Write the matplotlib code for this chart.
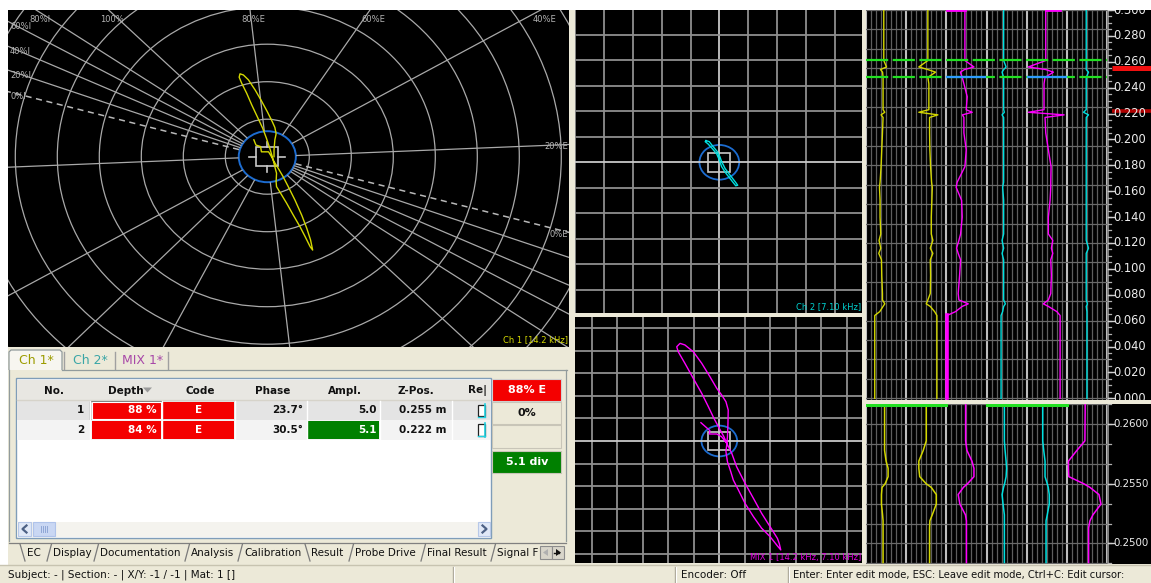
import numpy as np
import matplotlib
matplotlib.use("Agg")
import matplotlib.pyplot as plt
from matplotlib.patches import Rectangle, Ellipse, Polygon

plt.rcParams['font.family'] = ['DejaVu Sans']

W, H = 1151, 583
BG = '#ECE9D8'

# ---------------------------------------------------------------- data
# Ch 1 (14.2 kHz) impedance-plane trace, in grid rings (x right, y up)
CH1_X = [-0.32, -0.27, -0.16, -0.14, 0.03, 0.10, 0.16, 0.26, 0.37, 0.50, 0.66, 0.82,
         0.94, 1.03, 1.08, 1.02, 0.90, 0.78, 0.62, 0.46, 0.32, 0.22, 0.21, 0.22,
         0.18, 0.13, 0.06, -0.02, -0.11, -0.24, -0.37, -0.49, -0.61, -0.67, -0.65,
         -0.57, -0.45, -0.29, -0.13, 0.00, 0.12, 0.18, 0.21, 0.18, 0.16, 0.16]
CH1_Y = [0.45, 0.31, 0.27, 0.13, 0.13, 0.00, -0.13, -0.31, -0.52, -0.80, -1.16, -1.56,
         -1.91, -2.22, -2.49, -2.40, -2.13, -1.87, -1.56, -1.24, -0.98, -0.80, -0.67, -0.44,
         -0.27, -0.04, 0.22, 0.49, 0.76, 1.07, 1.38, 1.69, 1.96, 2.12, 2.21,
         2.18, 2.05, 1.78, 1.47, 1.20, 0.93, 0.78, 0.61, 0.45, 0.18, 0.00]

# Ch 2 (7.10 kHz) trace, in grid divisions
CH2_X = [-0.46, -0.35, -0.21, -0.07, 0.02, 0.08, 0.20, 0.37, 0.55, 0.64, 0.57, 0.41,
         0.23, 0.08, 0.00, -0.09, -0.23, -0.39, -0.49, -0.46]
CH2_Y = [0.85, 0.81, 0.61, 0.42, 0.22, 0.03, -0.24, -0.50, -0.76, -0.90, -0.92, -0.69,
         -0.43, -0.17, 0.09, 0.33, 0.52, 0.72, 0.81, 0.85]

# MIX 1 trace, in grid divisions
MIX_X = [-0.72, -0.37, -0.39, -0.10, 0.09, 0.29, 0.49, 0.68, 1.01, 1.34, 1.66, 1.99,
         2.28, 2.35, 2.41, 2.25, 1.99, 1.66, 1.34, 1.01, 0.75, 0.55, 0.45, 0.32,
         0.26, 0.29, 0.32, 0.34, 0.35, 0.26, 0.09, -0.10, -0.37, -0.69, -1.02, -1.35,
         -1.54, -1.67, -1.61, -1.35, -1.02, -0.69, -0.43, -0.21, 0.00, 0.18, 0.29]
MIX_Y = [0.81, 0.46, 0.31, 0.31, 0.19, -0.10, -0.55, -1.14, -1.87, -2.54, -3.20, -3.79,
         -4.31, -4.53, -4.82, -4.60, -4.23, -3.86, -3.35, -2.76, -2.17, -1.73, -1.36, -0.92,
         -0.47, -0.18, 0.19, 0.78, 1.37, 1.74, 2.04, 2.33, 2.85, 3.44, 3.95, 4.25,
         4.32, 4.17, 3.95, 3.44, 2.77, 2.11, 1.52, 1.00, 0.56, 0.19, -0.10]

# calibration phase lines of the Ch 1 display (degrees) and their labels
CAL_ANGLES = [2.6, 31.0, 58.0, 96.0, 134.0, 144.6, 149.7, 154.5, 159.5]
CAL_LABELS = ['20%E', '40%E', '60%E', '80%E', '100%', '80%I', '60%I', '40%I', '20%I']
CAL_THROUGH = [True, True, False, True, True, True, True, True, True]
ZERO_ANGLE = 164.3
ZERO_LABELS = ['0%I', '0%E']
EXTRA_RAYS = [227.0, 244.0]
CH1_RINGS = [1, 2, 3, 4, 5, 6, 7, 8, 9]

# strip charts: depth (m) and deflection per track
STRIP_DEPTH = [0.000, 0.064, 0.067, 0.071, 0.073, 0.076, 0.081, 0.095, 0.107, 0.112,
               0.116, 0.122, 0.127, 0.140, 0.153, 0.163, 0.167, 0.179, 0.192, 0.205,
               0.217, 0.219, 0.221, 0.223, 0.233, 0.243, 0.248, 0.252, 0.254, 0.256,
               0.261, 0.300]
TRACK1 = [-11.3, -11.3, -6.3, -3.0, -1.3, -3.6, -3.6, -4.3, -4.6, -7.3, -5.3, -7.0, -5.3,
          -6.0, -6.0, -6.6, -6.0, -5.0, -4.3, -3.6, -3.0, -5.0, -1.3, -3.0, -3.0, -3.0,
          -3.0, -3.5, -5.6, 0.4, -2.3, -2.3]
TRACK2 = [10.6, 10.6, 8.3, 4.0, 0.0, 1.6, 4.0, 4.3, 4.0, 6.6, 4.0, 6.6, 5.0, 5.0, 5.6,
          6.0, 5.3, 4.3, 3.6, 3.3, 3.3, 11.6, -7.4, 2.6, 2.6, 2.6, 1.6, 9.3, 1.6, -7.4,
          1.6, 1.6]
TRACK3 = [-19.2, -19.2, -10.8, -4.2, 1.8, -7.5, -8.2, -6.8, -5.8, -8.2, -9.8, -7.5, -5.8,
          -4.2, -4.8, -10.2, -9.2, -1.5, -0.2, -2.5, -2.5, -4.0, 5.8, -0.2, 0.8, -2.5,
          -4.2, -6.0, -2.0, 7.5, -1.5, -1.5]
TRACK4 = [-5.5, -5.5, -3.9, -2.9, -1.2, -2.9, -2.9, -2.9, -2.9, -4.5, -2.9, -4.5, -2.9,
          -2.9, -2.9, -3.9, -2.9, -2.9, -2.9, -2.9, -2.9, -4.5, -2.2, -2.9, -2.9, -2.9,
          -2.9, -4.5, -2.9, -0.5, -2.9, -2.9]
TRACK5 = [13.3, 13.3, 10.0, 1.6, -3.4, 1.6, 4.0, 4.6, 4.0, 6.0, 4.6, 6.0, 1.6, 1.6, 3.3,
          4.0, 4.0, 4.3, 1.6, -1.0, -1.7, 17.3, -18.4, -2.7, -2.7, -2.7, -1.7, 6.6, -1.0,
          -18.4, -1.0, -1.0]
TRACK6 = [0.0, 0.0, 0.0, -0.7, 0.5, -0.7, -0.7, -0.7, -0.7, -0.7, 1.6, -0.7, -0.7, -0.7,
          -0.7, -0.7, -0.7, -0.7, -0.7, -0.7, -0.7, 1.6, -3.4, -0.7, -0.7, -0.7, -0.7,
          1.6, -0.7, -0.7, -0.7, -0.7]
STRIP_TRACKS = [TRACK1, TRACK2, TRACK3, TRACK4, TRACK5, TRACK6]
STRIP_COLORS = ['yellow', 'yellow', 'magenta', 'cyan', 'magenta', 'cyan']

# zoomed strip window (between the two green cursors)
ZOOM_RANGE = (0.2483, 0.2617)
ZOOM_DEPTH = [0.2484, 0.2513, 0.2519, 0.2524, 0.2533, 0.2541, 0.2547, 0.2550, 0.2556,
              0.2563, 0.2569, 0.2578, 0.2586, 0.2617]
ZTRACK1 = [-3.0, -3.0, -3.0, -3.5, -4.6, -4.6, -4.0, -1.0, 2.0, 2.0, 0.0, -1.5, -1.5, -1.5]
ZTRACK2 = [3.3, 3.3, 3.6, 6.0, 10.0, 10.0, 5.0, 0.0, -6.5, -7.4, -7.4, -3.0, 0.0, 0.0]
ZTRACK3 = [0.0, 0.0, 0.0, -1.0, -6.5, -8.2, -3.0, 1.0, 7.5, 7.5, 5.5, 0.5, -0.8, -0.8]
ZTRACK4 = [-2.2, -2.2, -2.2, -2.2, -3.5, -4.5, -3.0, -2.0, -0.5, 0.0, -0.5, -1.5, -2.2, -2.2]
ZTRACK5 = [-0.7, -0.7, -0.7, 0.5, 2.5, 2.5, 1.5, 0.5, -1.7, -1.7, -1.7, -3.0, -4.0, -4.0]
ZTRACK6 = [1.7, 1.7, 3.0, 6.0, 14.0, 12.0, 3.0, -3.0, -18.0, -18.4, -18.4, -10.0, -2.0, -1.7]
ZOOM_TRACKS = [ZTRACK1, ZTRACK2, ZTRACK3, ZTRACK4, ZTRACK5, ZTRACK6]
ZOOM_COLORS = ['yellow', 'yellow', 'magenta', 'cyan', 'cyan', 'magenta']

STRIP_TICKS = [0.300, 0.280, 0.260, 0.240, 0.220, 0.200, 0.180, 0.160, 0.140, 0.120,
               0.100, 0.080, 0.060, 0.040, 0.020, 0.000]
ZOOM_TICKS = [0.2600, 0.2550, 0.2500]

# result table
RESULT_NO = [1, 2]
RESULT_DEPTH = [88, 84]
RESULT_CODE = ['E', 'E']
RESULT_PHASE = [23.7, 30.5]
RESULT_AMPL = [5.0, 5.1]
RESULT_ZPOS = [0.255, 0.222]

COL = {'yellow': '#D4D800', 'magenta': '#FF00FF', 'cyan': '#00E0E0'}
GRID = '#A9A9A9'
BLUE = '#1C6CD0'


# ---------------------------------------------------------------- helpers
fig = plt.figure(figsize=(W / 100, H / 100), dpi=100, facecolor=BG)

ui = fig.add_axes([0, 0, 1, 1], zorder=0)
ui.set_xlim(0, W)
ui.set_ylim(H, 0)
ui.axis('off')


def px_axes(x0, y0, x1, y1, fc='black', z=2):
    ax = fig.add_axes([x0 / W, 1 - y1 / H, (x1 - x0) / W, (y1 - y0) / H], zorder=z)
    ax.set_facecolor(fc)
    for s in ax.spines.values():
        s.set_visible(False)
    ax.set_xticks([])
    ax.set_yticks([])
    return ax


def scope_limits(ax, box, center, div):
    x0, y0, x1, y1 = box
    cx, cy = center
    dx, dy = div
    ax.set_xlim((x0 - cx) / dx, (x1 - cx) / dx)
    ax.set_ylim((cy - y1) / dy, (cy - y0) / dy)


def rect(x0, y0, x1, y1, **kw):
    ui.add_patch(Rectangle((x0, y0), x1 - x0, y1 - y0, **kw))


# white margins of the window
rect(0, 0, W, 9.5, fc='white', ec='none')
rect(0, 0, 8, 565, fc='white', ec='none')

# ---------------------------------------------------------------- Ch 1 phase display
ax1 = px_axes(8, 10, 569, 347)
scope_limits(ax1, (8, 10, 569, 347), (267.3, 156.7), (42.0, 37.5))
xl, yl = ax1.get_xlim(), ax1.get_ylim()

for r in CH1_RINGS:
    ax1.add_patch(Ellipse((0, 0), 2 * r, 2 * r, fill=False, ec=GRID, lw=0.9))


def ray(ax, a, r0, r1, **kw):
    t = np.radians(a)
    ax.plot([r0 * np.cos(t), r1 * np.cos(t)], [r0 * np.sin(t), r1 * np.sin(t)], **kw)


def edge_point(a):
    t = np.radians(a)
    c, s = np.cos(t), np.sin(t)
    cands = []
    if c > 1e-9:
        cands.append((xl[1] / c, 'right'))
    if c < -1e-9:
        cands.append((xl[0] / c, 'left'))
    if s > 1e-9:
        cands.append((yl[1] / s, 'top'))
    if s < -1e-9:
        cands.append((yl[0] / s, 'bottom'))
    d, side = min(cands)
    return d * c, d * s, side


def edge_label(a, text):
    x, y, side = edge_point(a)
    kw = dict(color='#B4B4B4', fontsize=6, clip_on=False)
    if side == 'top':
        ax1.text(x + 0.08, yl[1] - 0.12, text, ha='center', va='top', **kw)
    elif side == 'left':
        ax1.text(xl[0] + 0.05, y - 0.02, text, ha='left', va='top', **kw)
    elif side == 'right':
        ax1.text(xl[1] - 0.02, y - 0.05, text, ha='right', va='center', **kw)


for a, lab, through in zip(CAL_ANGLES, CAL_LABELS, CAL_THROUGH):
    ray(ax1, a, 0.7, 14, color=GRID, lw=0.9)
    if through:
        ray(ax1, a + 180, 0.7, 14, color=GRID, lw=0.9)
    edge_label(a, lab)
for a in EXTRA_RAYS:
    ray(ax1, a, 0.7, 14, color=GRID, lw=0.9)
ray(ax1, ZERO_ANGLE, 0.7, 14, color='#B8B8B8', lw=1.1, ls=(0, (4, 3)))
ray(ax1, ZERO_ANGLE + 180, 0.7, 14, color='#B8B8B8', lw=1.1, ls=(0, (4, 3)))
edge_label(ZERO_ANGLE, ZERO_LABELS[0])
edge_label(ZERO_ANGLE + 180, ZERO_LABELS[1])

ax1.add_patch(Ellipse((0, 0), 1.36, 1.36, fill=False, ec=BLUE, lw=1.4))
ax1.add_patch(Rectangle((-0.26, -0.25), 0.52, 0.5, fill=False, ec='#C8C8C8', lw=1.2))
for (xa, ya), (xb, yb) in [((-0.44, 0), (-0.26, 0)), ((0.26, 0), (0.43, 0)),
                           ((0, -0.25), (0, -0.41)), ((0, 0.25), (0, 0.40))]:
    ax1.plot([xa, xb], [ya, yb], color='#C8C8C8', lw=1.2)
ax1.plot(CH1_X, CH1_Y, color=COL['yellow'], lw=1.0)
ax1.text(xl[1] - 0.03, yl[0] + 0.08, 'Ch 1 [14.2 kHz]', color=COL['yellow'],
         fontsize=6, ha='right', va='bottom')


# ---------------------------------------------------------------- Ch 2 and MIX 1 displays
def grid_scope(ax, center_line='#C8C8C8', minor='#8E8E8E'):
    x0, x1 = ax.get_xlim()
    y0, y1 = ax.get_ylim()
    for v in range(int(np.ceil(x0)), int(np.floor(x1)) + 1):
        ax.axvline(v, color=center_line if v == 0 else minor, lw=1.3)
    for v in range(int(np.ceil(y0)), int(np.floor(y1)) + 1):
        ax.axhline(v, color=center_line if v == 0 else minor, lw=1.3)


ax2 = px_axes(575, 9.5, 862, 313)
scope_limits(ax2, (575, 9.5, 862, 313), (719.3, 162.3), (28.8, 25.5))
grid_scope(ax2)
ax2.add_patch(Ellipse((0, 0), 1.38, 1.36, fill=False, ec=BLUE, lw=1.3))
ax2.add_patch(Rectangle((-0.38, -0.37), 0.76, 0.74, fill=False, ec='#C8C8C8', lw=1.2))
ax2.plot(CH2_X, CH2_Y, color=COL['cyan'], lw=1.0)
x2l, y2l = ax2.get_xlim(), ax2.get_ylim()
ax2.text(x2l[1] - 0.03, y2l[0] + 0.08, 'Ch 2 [7.10 kHz]', color='#00D0D0',
         fontsize=6, ha='right', va='bottom')

ax3 = px_axes(575, 317.3, 862, 563.3)
scope_limits(ax3, (575, 317.3, 862, 563.3), (719.3, 441.0), (25.5, 22.6))
grid_scope(ax3)
ax3.add_patch(Ellipse((0, 0), 1.40, 1.36, fill=False, ec=BLUE, lw=1.3))
ax3.add_patch(Rectangle((-0.43, -0.42), 0.86, 0.84, fill=False, ec='#C8C8C8', lw=1.2))
ax3.plot(MIX_X, MIX_Y, color=COL['magenta'], lw=1.0)
x3l, y3l = ax3.get_xlim(), ax3.get_ylim()
ax3.text(x3l[1] - 0.03, y3l[0] + 0.05, 'MIX 1 [14.2 kHz, 7.10 kHz]', color='#E000E0',
         fontsize=6, ha='right', va='bottom')


# ---------------------------------------------------------------- strip charts
TRACK_W = 40.0


def strip_grid(ax, ylo, yhi, hstep, hbase):
    for c in range(6):
        for k in range(1, 8):
            ax.axvline(c * TRACK_W + k * 5, color='#5E5E5E', lw=0.9)
    for c in range(7):
        ax.axvline(c * TRACK_W, color='#BEBEBE', lw=1.5)
    v = hbase
    while v > ylo:
        ax.axhline(v, color='#6A6A6A', lw=0.9)
        v -= hstep


def strip_labels(ax, ticks, fmt, minor_step, ylo, yhi, size=8.3, major_len=6,
                 minor_len=3.5):
    ax.axvline(0.5, color='#9A9A9A', lw=1.2)
    v = max(ticks) + minor_step * 3
    while v >= ylo - minor_step:
        ax.plot([0.5, 0.5 + minor_len], [v, v], color='#B0B0B0', lw=0.9)
        v -= minor_step
    for t in ticks:
        ax.plot([0.5, 0.5 + major_len], [t, t], color='#D0D0D0', lw=1.0)
        txt = ax.text(6.0, t, fmt.format(t), color='#EDEDED', fontsize=size, ha='left',
                      va='center', clip_on=True)
        txt.set_clip_path(ax.patch)


STRIP_TOP = (-0.0013, 0.3004)
ax4 = px_axes(866, 9.5, 1107, 400)
ax4.set_xlim(0, 6 * TRACK_W)
ax4.set_ylim(*STRIP_TOP)
strip_grid(ax4, STRIP_TOP[0], STRIP_TOP[1], 0.015, 0.300)
for c, (trk, cname) in enumerate(zip(STRIP_TRACKS, STRIP_COLORS)):
    xs = c * TRACK_W + TRACK_W / 2 + np.array(trk)
    ax4.plot(xs, STRIP_DEPTH, color=COL[cname], lw=1.0)
    if c == 2:
        ax4.plot(xs[:2], STRIP_DEPTH[:2], color=COL[cname], lw=2.6)
# overflow marks at the top edge for the wrapped magenta tracks
for c in (2, 4):
    trk = STRIP_TRACKS[c]
    ax4.plot([c * TRACK_W + TRACK_W / 2 + trk[0], c * TRACK_W + TRACK_W / 2 + trk[-1]],
             [0.2998, 0.2998], color=COL['magenta'], lw=2.0)
for zr in ZOOM_RANGE:
    ax4.axhline(zr, color='#22E022', lw=1.6, ls=(0, (10, 2)))
for c in (2, 4):
    ax4.plot([c * TRACK_W + 1, (c + 1) * TRACK_W - 1], [ZOOM_RANGE[0]] * 2,
             color='#2E9BFF', lw=1.6)

ax4l = px_axes(1107, 9.5, 1151, 400)
ax4l.set_xlim(0, 44)
ax4l.set_ylim(*STRIP_TOP)
strip_labels(ax4l, STRIP_TICKS, '{:.3f}', 0.005, STRIP_TOP[0], STRIP_TOP[1])
for zp, col, lw in zip(RESULT_ZPOS, ['#F01010', '#B00000'], [3.6, 2.6]):
    ax4l.plot([4.5, 44], [zp, zp], color=col, lw=lw, solid_capstyle='butt')

ZOOM_VIEW = (0.24832, 0.26169)
ax5 = px_axes(866, 404, 1107, 563.5)
ax5.set_xlim(0, 6 * TRACK_W)
ax5.set_ylim(*ZOOM_VIEW)
strip_grid(ax5, ZOOM_VIEW[0], ZOOM_VIEW[1], 0.005 / 3, 0.2600 + 0.005 / 3)
for c, (trk, cname) in enumerate(zip(ZOOM_TRACKS, ZOOM_COLORS)):
    xs = c * TRACK_W + TRACK_W / 2 + np.array(trk)
    ax5.plot(xs, ZOOM_DEPTH, color=COL[cname], lw=1.1)
for c0, c1 in ((0, 2), (3, 5)):
    ax5.plot([c0 * TRACK_W, c1 * TRACK_W], [ZOOM_VIEW[1] - 0.00005] * 2,
             color='#22E022', lw=2.2)

ax5l = px_axes(1107, 404, 1151, 563.5)
ax5l.set_xlim(0, 44)
ax5l.set_ylim(*ZOOM_VIEW)
strip_labels(ax5l, ZOOM_TICKS, '{:.4f}', 0.005 / 3, ZOOM_VIEW[0], ZOOM_VIEW[1], size=7.4)


# ---------------------------------------------------------------- channel tabs
ui.add_patch(Polygon([(9, 370), (9, 352), (11, 350), (60, 350), (62, 352), (62, 370)],
                     closed=False, fc='#F7F6F0', ec='#919B9C', lw=0.9))
ui.text(36, 361, 'Ch 1*', color='#9C9C00', fontsize=9, ha='center', va='center')
ui.text(90, 361, 'Ch 2*', color='#3AA6A6', fontsize=9, ha='center', va='center')
ui.text(143, 361, 'MIX 1*', color='#A848A8', fontsize=9, ha='center', va='center')
for xs in (64, 115, 168):
    ui.plot([xs, xs], [352, 369], color='#A0A0A0', lw=1.0)
ui.plot([62, 567], [370, 370], color='#919B9C', lw=0.9)
ui.plot([9, 9], [370, 541], color='#919B9C', lw=0.9)
ui.plot([566.5, 566.5], [370, 541], color='#919B9C', lw=0.9)

# ---------------------------------------------------------------- result table
rect(16.5, 378, 491, 538, fc='white', ec='#7F9DB9', lw=1.0)
rect(17.5, 379.5, 490, 400, fc='#E8E7E2', ec='none')
ui.plot([17.5, 490], [400, 400], color='#D6D3CA', lw=1.0)
heads = [('No.', 54), ('Depth', 126), ('Code', 200), ('Phase', 273), ('Ampl.', 345),
         ('Z-Pos.', 416), ('Re|', 478)]
for txt, xc in heads:
    ui.text(xc, 390.5, txt, fontsize=7.5, fontweight='bold', ha='center', va='center',
            color='#111111', clip_on=True)
ui.add_patch(Polygon([(143, 387.5), (152, 387.5), (147.5, 392.5)], closed=True,
                     fc='#9A9A9A', ec='none'))

col_edges = [17.5, 90, 162, 235, 307, 380, 452, 490]
row_tops = [400.5, 420]
row_h = 19.5
row_bg = ['#E4E4E4', '#F3F3F3']
ampl_max = max(RESULT_AMPL)
for i in range(len(RESULT_NO)):
    y0 = row_tops[i]
    y1 = y0 + row_h
    yc = (y0 + y1) / 2
    rect(17.5, y0, 490, y1, fc=row_bg[i], ec='none')
    for xe in col_edges[1:-1]:
        ui.plot([xe, xe], [y0, y1], color='white', lw=1.0)
    # depth cell
    rect(col_edges[1] + 2, y0 + 1, col_edges[2] - 1, y1 - 1, fc='#F40000', ec='none')
    if i == 0:
        rect(col_edges[1] + 0.5, y0, col_edges[2] + 0.5, y1, fill=False, ec='#6A6A6A', lw=1.0)
        rect(col_edges[1] + 2, y0 + 1.5, col_edges[2] - 1, y1 - 1.5, fill=False,
             ec='white', lw=0.8)
    # code cell
    rect(col_edges[2] + 1, y0 + 1, col_edges[3] - 1, y1 - 1, fc='#F40000', ec='none')
    # amplitude cell
    best = RESULT_AMPL[i] == ampl_max
    if best:
        rect(col_edges[4] + 1, y0 + 1, col_edges[5] - 1, y1 - 1, fc='#008000', ec='none')
    kw = dict(fontsize=7.5, fontweight='bold', va='center')
    ui.text(col_edges[1] - 6, yc, f'{RESULT_NO[i]}', ha='right', color='#111111', **kw)
    ui.text(col_edges[2] - 5, yc, f'{RESULT_DEPTH[i]} %', ha='right', color='white', **kw)
    ui.text((col_edges[2] + col_edges[3]) / 2, yc, RESULT_CODE[i], ha='center',
            color='white', **kw)
    ui.text(col_edges[4] - 4, yc, f'{RESULT_PHASE[i]:.1f}°', ha='right', color='#111111', **kw)
    ui.text(col_edges[5] - 3, yc, f'{RESULT_AMPL[i]:.1f}', ha='right',
            color='white' if best else '#111111', **kw)
    ui.text(col_edges[6] - 5, yc, f'{RESULT_ZPOS[i]:.3f} m', ha='right', color='#111111', **kw)
    rect(478, y0 + 4, 485, y1 - 4, fc='white', ec='#202020', lw=0.9)
    ui.plot([485.5, 485.5], [y0 + 3, y1 - 3], color='#20D0E0', lw=1.2)
    ui.plot([478, 485], [y1 - 3.5, y1 - 3.5], color='#20D0E0', lw=1.0)

# horizontal scroll bar
rect(17.5, 521.5, 490, 536.5, fc='#F4F3EE', ec='none')
rect(18, 522, 31, 536, fc='#E0E8F7', ec='#B7C8E8', lw=0.8)
rect(478, 522, 490, 536, fc='#E0E8F7', ec='#B7C8E8', lw=0.8)
rect(33, 522, 55, 536, fc='#C9D7F3', ec='#AFC3EA', lw=0.8)
for gx in (41, 43, 45, 47):
    ui.plot([gx, gx], [526, 532], color='#8FA6D6', lw=0.7)
ui.plot([26.5, 22.5, 26.5], [525.5, 529, 532.5], color='#4D6185', lw=1.6)
ui.plot([482.5, 486.5, 482.5], [525.5, 529, 532.5], color='#4D6185', lw=1.6)

# summary boxes
rect(492.5, 379, 561, 401, fc='#F40000', ec='#D0D0D0', lw=0.8)
ui.text(527, 390, f'{RESULT_DEPTH[0]}% {RESULT_CODE[0]}', color='white', fontsize=8,
        fontweight='bold', ha='center', va='center')
rect(492.5, 401.5, 561, 424, fc=BG, ec='#C8C5B8', lw=0.8)
ui.text(527, 413, '0%', color='#111111', fontsize=8, fontweight='bold', ha='center',
        va='center')
rect(492.5, 424.5, 561, 448, fc=BG, ec='#C8C5B8', lw=0.8)
rect(492.5, 451, 561, 472.5, fc='#008000', ec='#C8C5B8', lw=0.8)
ui.text(527, 462, f'{ampl_max:.1f} div', color='white', fontsize=8, fontweight='bold',
        ha='center', va='center')

# ---------------------------------------------------------------- sheet tabs
ui.plot([9, 566], [542.5, 542.5], color='#808080', lw=0.9)
sheet_tabs = [('EC', 27, 46), ('Display', 53, 90), ('Documentation', 100, 180),
              ('Analysis', 191, 235), ('Calibration', 244, 301), ('Result', 311, 345),
              ('Probe Drive', 355, 417), ('Final Result', 427, 489), ('Signal F', 497, 539)]
for name, xa, xb in sheet_tabs:
    ui.text(xa, 552.5, name, fontsize=7.5, ha='left', va='center', color='#111111')
    if name == 'EC':
        ui.plot([xa - 7, xa - 2], [544, 561], color='#7A7A7A', lw=0.9)
    elif name == 'Result':
        ui.plot([xa - 6, xa - 1], [544, 561], color='#7A7A7A', lw=0.9)
    else:
        ui.plot([xa - 6, xa - 1.5], [561, 544], color='#7A7A7A', lw=0.9)
rect(318 - 4, 542.5, 346, 543.5, fc=BG, ec='none')
rect(533, 545, 566, 560, fc=BG, ec='none')
rect(540, 546, 552, 559, fc='#D8D5CA', ec='#8C8C8C', lw=0.8)
rect(552, 546, 564, 559, fc='#D8D5CA', ec='#8C8C8C', lw=0.8)
ui.add_patch(Polygon([(543, 552.5), (548, 549), (548, 556)], fc='#B0B0B0', ec='none'))
ui.add_patch(Polygon([(561, 552.5), (556, 549), (556, 556)], fc='#111111', ec='none'))
ui.plot([554, 559], [552.5, 552.5], color='#111111', lw=1.0)

# ---------------------------------------------------------------- status bar
ui.plot([0, W], [565, 565], color='#C7C3B0', lw=1.0)
ui.text(8, 575, 'Subject: - | Section: - | X/Y: -1 / -1 | Mat: 1 []', fontsize=7.5,
        ha='left', va='center', color='#111111')
for xs in (453, 675.5, 788.5):
    ui.plot([xs, xs], [567, 583], color='#ACA899', lw=1.0)
    ui.plot([xs + 1, xs + 1], [567, 583], color='white', lw=0.8)
ui.text(681, 575, 'Encoder: Off', fontsize=7.5, ha='left', va='center', color='#111111')
ui.text(793, 575, 'Enter: Enter edit mode, ESC: Leave edit mode, Ctrl+C: Edit cursor:',
        fontsize=7.2, ha='left', va='center', color='#111111')

fig.savefig('out.png', dpi=100, facecolor=BG)
